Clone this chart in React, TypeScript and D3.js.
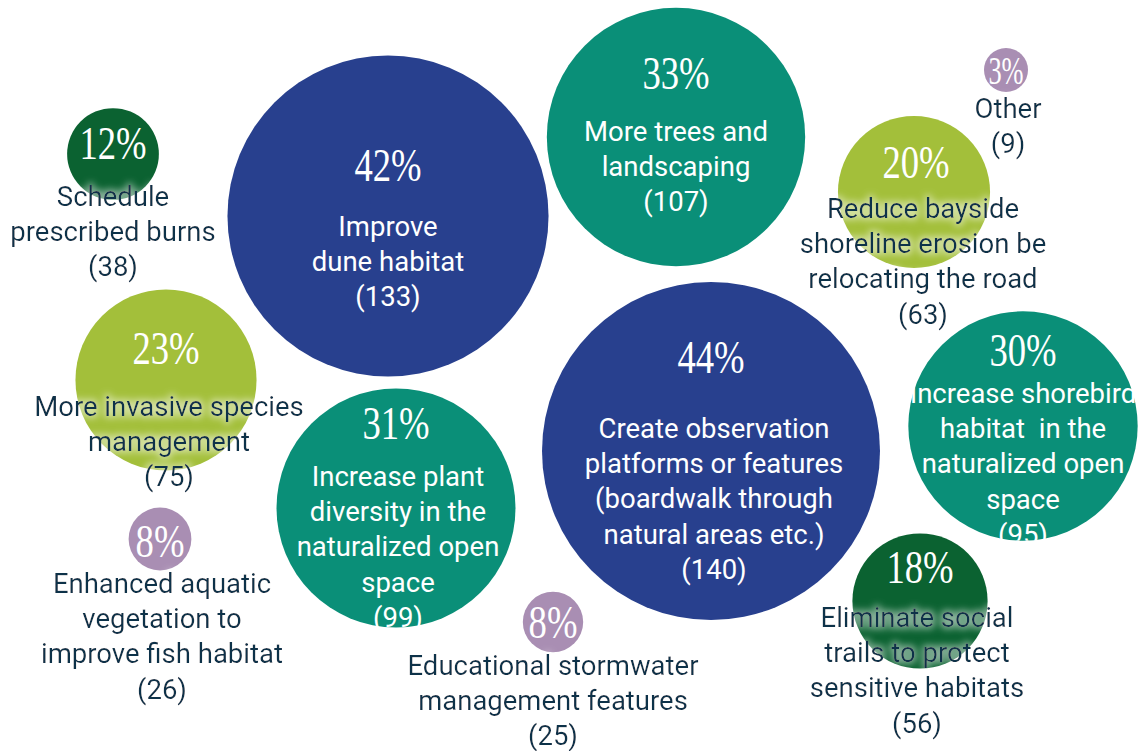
import React from "react";
import * as d3 from "d3";

// ---- data ----
const categories: string[][] = [
  ["Improve", "dune habitat"],
  ["More trees and", "landscaping"],
  ["Other"],
  ["Reduce bayside", "shoreline erosion be", "relocating the road"],
  ["Schedule", "prescribed burns"],
  ["More invasive species", "management"],
  ["Increase plant", "diversity in the", "naturalized open", "space"],
  ["Enhanced aquatic", "vegetation to", "improve fish habitat"],
  ["Educational stormwater", "management features"],
  ["Create observation", "platforms or features", "(boardwalk through", "natural areas etc.)"],
  ["Increase shorebird", "habitat  in the", "naturalized open", "space"],
  ["Eliminate social", "trails to protect", "sensitive habitats"],
];
const counts: number[] = [133, 107, 9, 63, 38, 75, 99, 26, 25, 140, 95, 56];
const percents: number[] = [42, 33, 3, 20, 12, 23, 31, 8, 8, 44, 30, 18];
const colorGroup: string[] = [
  "blue", "teal", "lilac", "lime", "green", "lime", "teal", "lilac", "lilac", "blue", "teal", "green",
];

// ---- layout (bubble placement) ----
const centerX: number[] = [388, 676, 1006, 914, 113, 166, 396, 160, 553, 711, 1023, 920];
const centerY: number[] = [216, 137, 70, 192, 154, 380, 508, 539, 622, 451, 426, 601];
const textDx: number[] = [0, 0, 2, 9, 0, 3, 2, 2, 0, 3, 0, -3];
const pctDy: number[] = [-51, -64, 0, -30, -11, -32, -85, 2, 0, -94, -76, -34];
const labelDy: number[] = [10, -6, 38, 16, 42, 26, -32, 44, 43, -23, -33, 16];

const palette: Record<string, string> = {
  blue: "#28408E",
  teal: "#0A8F78",
  lilac: "#A98EB3",
  lime: "#A3BF3A",
  green: "#0B6231",
};
const lightText = new Set(["blue", "teal"]);
const darkTextColor = "#10304A";

const W = 1142;
const H = 751;
const LINE = 35.3;

export default function App() {
  const r = d3.scaleLinear().domain([0, 140]).range([0, 169]);
  const radius = (v: number) => Math.max(22, r(v));

  return (
    <svg
      width={W}
      height={H}
      viewBox={`0 0 ${W} ${H}`}
      style={{ position: "absolute", left: 0, top: 0, background: "#fff" }}
    >
      <defs>
        <filter id="halo" x="-20%" y="-40%" width="140%" height="180%">
          <feMorphology in="SourceAlpha" operator="dilate" radius="2" result="d" />
          <feGaussianBlur in="d" stdDeviation="3.5" result="b" />
          <feFlood floodColor="#ffffff" floodOpacity="0.5" />
          <feComposite in2="b" operator="in" result="glow" />
          <feMerge>
            <feMergeNode in="glow" />
            <feMergeNode in="SourceGraphic" />
          </feMerge>
        </filter>
        {counts.map((v, i) => {
          const rad = radius(v);
          return (
            <clipPath id={`clip${i}`} key={i}>
              <rect x={centerX[i] - rad} y={centerY[i] - rad} width={rad * 2} height={rad * 2} />
            </clipPath>
          );
        })}
      </defs>
      {counts.map((v, i) => {
        const rad = radius(v);
        const cx = centerX[i];
        const cy = centerY[i];
        const light = lightText.has(colorGroup[i]);
        const lines = [...categories[i], `(${v})`];
        const tx = cx + textDx[i];
        const px = cx + (textDx[i] > 5 ? 2 : 0);
        const py = cy + pctDy[i];
        return (
          <g key={i}>
            <circle cx={cx} cy={cy} r={rad} fill={palette[colorGroup[i]]} />
            <text
              transform={`translate(${px},${py}) scale(${i === 2 ? 0.66 : 0.78},1)`}
              dy="0.34em"
              textAnchor="middle"
              fill="#fff"
              fontFamily="'Liberation Serif', serif"
              fontSize={i === 2 ? 40 : 47}
            >
              {`${percents[i]}%`}
            </text>
            <g
              clipPath={light ? `url(#clip${i})` : undefined}
              filter={light ? undefined : "url(#halo)"}
            >
              {lines.map((ln, j) => (
                <text
                  key={j}
                  x={tx}
                  y={cy + labelDy[i] + j * LINE}
                  dy="0.35em"
                  textAnchor="middle"
                  fill={light ? "#fff" : darkTextColor}
                  fontFamily="Roboto, sans-serif"
                  fontSize={27.5}
                  style={{ whiteSpace: "pre" }}
                >
                  {ln}
                </text>
              ))}
            </g>
          </g>
        );
      })}
    </svg>
  );
}
